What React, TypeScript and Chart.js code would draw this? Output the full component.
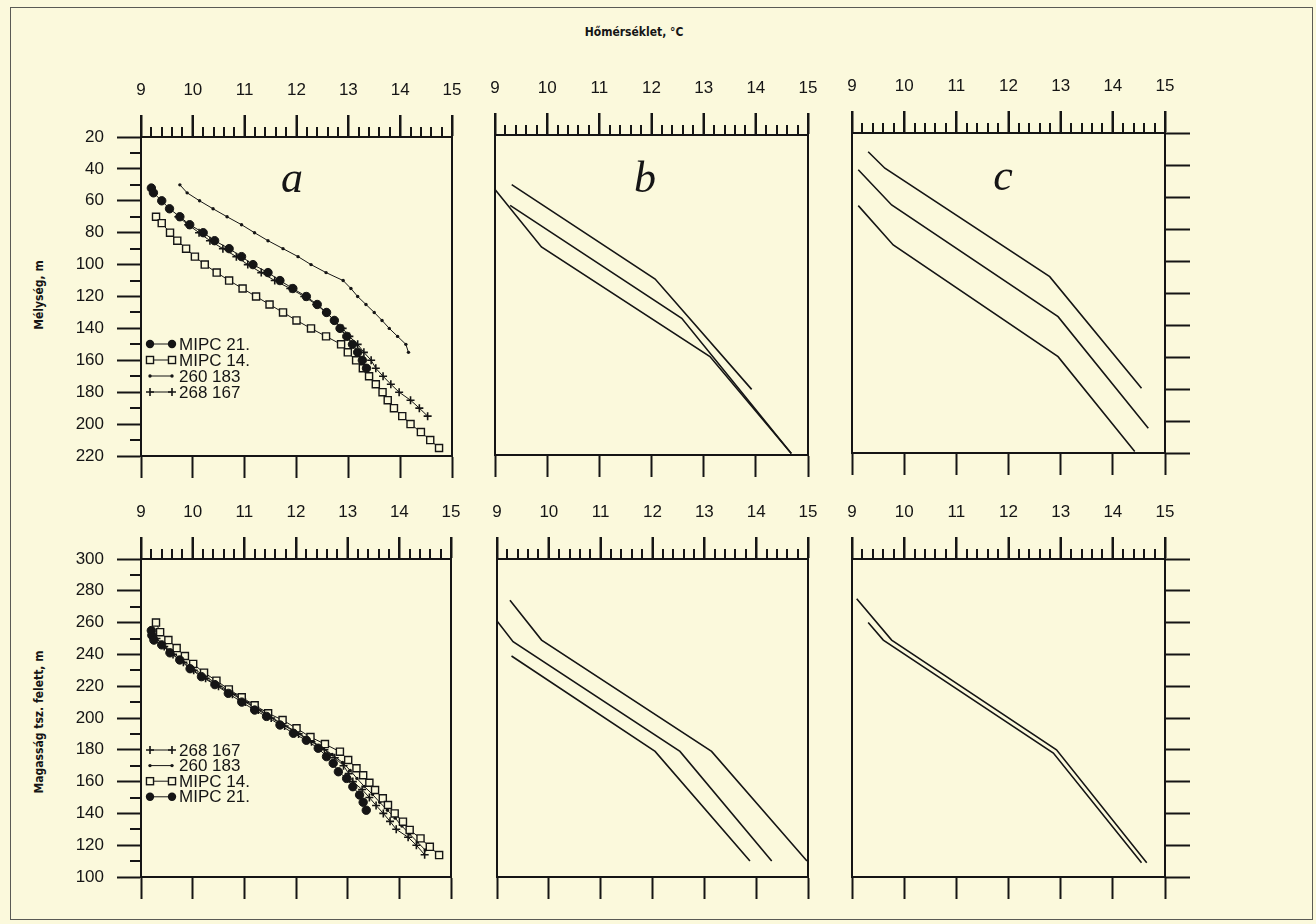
import React, { useEffect, useRef } from 'react';
import { Chart, registerables } from 'chart.js';

Chart.register(...registerables);

const BG = '#FBF9DC';
const INK = '#151515';
const FONT = '"Liberation Sans", Arial, Helvetica, sans-serif';
const LABEL_FONT = '"DejaVu Sans Condensed", "DejaVu Sans", sans-serif';

// ---------- axes ----------
const TEMP_RANGE = [9, 15];
const TEMP_MINOR_STEPS = 30; // 0.2 °C minor ticks, every 5th is major
const DEPTH_RANGE = [20, 220];
const ELEV_RANGE = [100, 300];

// ---------- panel a, depth (m) ----------
const A_TOP_MIPC21_D = [52, 55, 60, 65, 70, 75, 80, 85, 90, 95, 100, 105, 110, 115, 120, 125, 130, 135, 140, 145, 150, 155, 160, 165];
const A_TOP_MIPC21_T = [9.2, 9.24, 9.4, 9.55, 9.75, 9.94, 10.2, 10.42, 10.7, 10.94, 11.16, 11.45, 11.68, 11.93, 12.19, 12.4, 12.58, 12.73, 12.84, 12.97, 13.08, 13.18, 13.27, 13.35];
const A_TOP_MIPC14_D = [70, 74, 80, 85, 90, 95, 100, 105, 110, 115, 120, 125, 130, 135, 140, 145, 150, 155, 160, 165, 170, 175, 180, 185, 190, 195, 200, 205, 210, 215];
const A_TOP_MIPC14_T = [9.29, 9.4, 9.56, 9.7, 9.87, 10.04, 10.23, 10.46, 10.7, 10.96, 11.22, 11.48, 11.74, 12.0, 12.28, 12.57, 12.86, 12.99, 13.15, 13.28, 13.4, 13.53, 13.66, 13.76, 13.88, 14.04, 14.2, 14.4, 14.58, 14.75];
const A_TOP_W260183_D = [50, 55, 60, 65, 70, 75, 80, 85, 90, 95, 100, 105, 110, 115, 120, 125, 130, 135, 140, 145, 150, 155];
const A_TOP_W260183_T = [9.75, 9.89, 10.13, 10.39, 10.66, 10.94, 11.19, 11.45, 11.74, 12.03, 12.28, 12.57, 12.9, 13.05, 13.18, 13.34, 13.5, 13.65, 13.79, 13.95, 14.11, 14.16];
const A_TOP_W268167_D = [70, 75, 80, 85, 90, 95, 100, 105, 110, 115, 120, 125, 130, 135, 140, 145, 150, 155, 160, 165, 170, 175, 180, 185, 190, 195];
const A_TOP_W268167_T = [9.72, 9.91, 10.12, 10.33, 10.58, 10.84, 11.06, 11.32, 11.58, 11.88, 12.15, 12.38, 12.57, 12.73, 12.89, 13.02, 13.18, 13.3, 13.44, 13.53, 13.67, 13.82, 13.98, 14.2, 14.37, 14.53];

// ---------- panel a, elevation (m) ----------
const A_BOT_MIPC21_H = [255, 252, 249, 246, 241, 236.5, 231, 226, 221, 215.5, 210, 205, 201, 195.6, 190.4, 186, 181, 175.7, 171.5, 166.2, 162, 156.8, 151.6, 147, 142];
const A_BOT_MIPC21_T = [9.2, 9.21, 9.25, 9.4, 9.56, 9.75, 9.95, 10.17, 10.43, 10.69, 10.95, 11.2, 11.43, 11.69, 11.95, 12.2, 12.43, 12.59, 12.72, 12.82, 12.98, 13.1, 13.23, 13.3, 13.36];
const A_BOT_MIPC14_H = [260, 254, 249, 244, 239, 234, 228.5, 223.5, 218, 213, 208, 203, 198.7, 193.5, 188, 183.6, 178.8, 173.6, 168.4, 164, 159.3, 154.7, 149.5, 145.3, 140, 134.8, 129.6, 124.3, 119, 113.8];
const A_BOT_MIPC14_T = [9.29, 9.37, 9.53, 9.69, 9.85, 10.01, 10.22, 10.46, 10.7, 10.95, 11.2, 11.46, 11.74, 12.01, 12.28, 12.56, 12.85, 13.01, 13.17, 13.3, 13.42, 13.53, 13.68, 13.78, 13.91, 14.07, 14.2, 14.41, 14.59, 14.77];
const A_BOT_W260183_H = [252, 247, 242, 237, 232, 227, 222, 217, 212, 207, 202, 197, 192, 187, 182, 177, 172, 167, 162, 157, 152, 147, 142, 137, 132, 127, 122, 117];
const A_BOT_W260183_T = [9.25, 9.4, 9.58, 9.78, 9.98, 10.2, 10.45, 10.7, 10.95, 11.2, 11.45, 11.7, 11.97, 12.22, 12.48, 12.7, 12.9, 13.05, 13.18, 13.32, 13.48, 13.62, 13.77, 13.92, 14.05, 14.2, 14.35, 14.5];
const A_BOT_W268167_H = [250, 245, 240, 235, 230, 225, 220, 215, 210, 205, 200, 195, 190, 185, 180, 175, 170, 165, 160, 155, 150, 145, 140, 135, 130, 125, 120, 114];
const A_BOT_W268167_T = [9.3, 9.45, 9.62, 9.82, 10.02, 10.25, 10.5, 10.77, 11.02, 11.27, 11.52, 11.78, 12.05, 12.3, 12.55, 12.75, 12.92, 13.02, 13.1, 13.28, 13.42, 13.55, 13.69, 13.82, 13.94, 14.17, 14.33, 14.49];

// ---------- panel b, depth ----------
const B_TOP_L1_T = [9.32, 12.07, 13.92];
const B_TOP_L1_D = [51, 110, 179];
const B_TOP_L2_T = [9.29, 12.58, 14.68];
const B_TOP_L2_D = [64, 134.6, 219];
const B_TOP_L3_T = [9.0, 9.89, 13.12, 14.68];
const B_TOP_L3_D = [54, 90, 158.5, 219];

// ---------- panel c, depth ----------
const C_TOP_L1_T = [9.31, 9.63, 12.79, 14.55];
const C_TOP_L1_D = [31.7, 42, 109.8, 179.6];
const C_TOP_L2_T = [9.12, 9.76, 12.95, 14.68];
const C_TOP_L2_D = [43, 65, 134.8, 204.6];
const C_TOP_L3_T = [9.12, 9.79, 12.95, 14.42];
const C_TOP_L3_D = [65.4, 90, 159.8, 219];

// ---------- panel b, elevation ----------
const B_BOT_L1_T = [9.25, 9.86, 13.14, 14.98];
const B_BOT_L1_H = [274, 249, 179, 110];
const B_BOT_L2_T = [9.0, 9.31, 12.53, 14.3];
const B_BOT_L2_H = [261, 248, 179, 110];
const B_BOT_L3_T = [9.28, 12.05, 13.88];
const B_BOT_L3_H = [239, 179, 110];

// ---------- panel c, elevation ----------
const C_BOT_L1_T = [9.09, 9.76, 12.92, 14.65];
const C_BOT_L1_H = [275, 249, 180, 109];
const C_BOT_L2_T = [9.31, 9.6, 12.86, 14.55];
const C_BOT_L2_H = [260, 249, 178, 109];

// ---------- styles ----------
type Kind = 'circle' | 'square' | 'dot' | 'plus' | 'line';
const STYLES: Record<Kind, { pointStyle: any; radius: number; fill: string; pbw: number; lw: number }> = {
  circle: { pointStyle: 'circle', radius: 4.2, fill: INK, pbw: 1, lw: 1 },
  square: { pointStyle: 'rect', radius: 5, fill: BG, pbw: 1.4, lw: 1 },
  dot: { pointStyle: 'circle', radius: 1.7, fill: INK, pbw: 0, lw: 1 },
  plus: { pointStyle: 'cross', radius: 4, fill: INK, pbw: 1.6, lw: 1 },
  line: { pointStyle: 'circle', radius: 0, fill: INK, pbw: 0, lw: 1.6 },
};

type Series = { label: string; x: number[]; y: number[]; kind: Kind };
type PanelDef = {
  id: string;
  area: number[]; // left, top, right, bottom (page px of plot area)
  margins: number[]; // left, right, top, bottom
  yRange: number[];
  reverse: boolean;
  leftLabels: boolean;
  rightTicks: boolean;
  series: Series[];
  legend: null | { rows: number[]; y0: number; dy: number };
};

const PANELS: PanelDef[] = [
  {
    id: 'ta', area: [141, 137, 452, 456], margins: [85, 20, 70, 30], yRange: DEPTH_RANGE, reverse: true,
    leftLabels: true, rightTicks: false,
    series: [
      { label: 'MIPC 21.', x: A_TOP_MIPC21_T, y: A_TOP_MIPC21_D, kind: 'circle' },
      { label: 'MIPC 14.', x: A_TOP_MIPC14_T, y: A_TOP_MIPC14_D, kind: 'square' },
      { label: '260 183', x: A_TOP_W260183_T, y: A_TOP_W260183_D, kind: 'dot' },
      { label: '268 167', x: A_TOP_W268167_T, y: A_TOP_W268167_D, kind: 'plus' },
    ],
    legend: { rows: [0, 1, 2, 3], y0: 207, dy: 16 },
  },
  {
    id: 'tb', area: [495, 135, 808, 455], margins: [20, 20, 70, 30], yRange: DEPTH_RANGE, reverse: true,
    leftLabels: false, rightTicks: false,
    series: [
      { label: 'b1', x: B_TOP_L1_T, y: B_TOP_L1_D, kind: 'line' },
      { label: 'b2', x: B_TOP_L2_T, y: B_TOP_L2_D, kind: 'line' },
      { label: 'b3', x: B_TOP_L3_T, y: B_TOP_L3_D, kind: 'line' },
    ],
    legend: null,
  },
  {
    id: 'tc', area: [852, 133, 1165, 453], margins: [20, 40, 70, 30], yRange: DEPTH_RANGE, reverse: true,
    leftLabels: false, rightTicks: true,
    series: [
      { label: 'c1', x: C_TOP_L1_T, y: C_TOP_L1_D, kind: 'line' },
      { label: 'c2', x: C_TOP_L2_T, y: C_TOP_L2_D, kind: 'line' },
      { label: 'c3', x: C_TOP_L3_T, y: C_TOP_L3_D, kind: 'line' },
    ],
    legend: null,
  },
  {
    id: 'ba', area: [141, 559, 451, 877], margins: [85, 20, 70, 30], yRange: ELEV_RANGE, reverse: false,
    leftLabels: true, rightTicks: false,
    series: [
      { label: 'MIPC 21.', x: A_BOT_MIPC21_T, y: A_BOT_MIPC21_H, kind: 'circle' },
      { label: 'MIPC 14.', x: A_BOT_MIPC14_T, y: A_BOT_MIPC14_H, kind: 'square' },
      { label: '260 183', x: A_BOT_W260183_T, y: A_BOT_W260183_H, kind: 'dot' },
      { label: '268 167', x: A_BOT_W268167_T, y: A_BOT_W268167_H, kind: 'plus' },
    ],
    legend: { rows: [3, 2, 1, 0], y0: 191, dy: 15.6 },
  },
  {
    id: 'bb', area: [497, 559, 808, 877], margins: [20, 20, 70, 30], yRange: ELEV_RANGE, reverse: false,
    leftLabels: false, rightTicks: false,
    series: [
      { label: 'b1', x: B_BOT_L1_T, y: B_BOT_L1_H, kind: 'line' },
      { label: 'b2', x: B_BOT_L2_T, y: B_BOT_L2_H, kind: 'line' },
      { label: 'b3', x: B_BOT_L3_T, y: B_BOT_L3_H, kind: 'line' },
    ],
    legend: null,
  },
  {
    id: 'bc', area: [852, 559, 1165, 877], margins: [20, 40, 70, 30], yRange: ELEV_RANGE, reverse: false,
    leftLabels: false, rightTicks: true,
    series: [
      { label: 'c1', x: C_BOT_L1_T, y: C_BOT_L1_H, kind: 'line' },
      { label: 'c2', x: C_BOT_L2_T, y: C_BOT_L2_H, kind: 'line' },
    ],
    legend: null,
  },
];

const isMajorY = (v: number) => Math.abs(v / 20 - Math.round(v / 20)) < 1e-6;

function drawMarker(ctx: CanvasRenderingContext2D, kind: Kind, x: number, y: number) {
  const st = STYLES[kind];
  ctx.save();
  ctx.strokeStyle = INK;
  ctx.fillStyle = st.fill;
  ctx.lineWidth = st.pbw || 1;
  if (kind === 'circle' || kind === 'dot') {
    ctx.beginPath();
    ctx.arc(x, y, st.radius, 0, Math.PI * 2);
    ctx.fill();
  } else if (kind === 'square') {
    const h = st.radius * Math.SQRT1_2;
    ctx.fillRect(x - h, y - h, 2 * h, 2 * h);
    ctx.strokeRect(x - h, y - h, 2 * h, 2 * h);
  } else if (kind === 'plus') {
    ctx.beginPath();
    ctx.moveTo(x - st.radius, y);
    ctx.lineTo(x + st.radius, y);
    ctx.moveTo(x, y - st.radius);
    ctx.lineTo(x, y + st.radius);
    ctx.stroke();
  }
  ctx.restore();
}

function createPanelChart(canvas: HTMLCanvasElement, p: PanelDef): Chart {
  const [ml, mr, mt, mb] = p.margins;
  const zeroPad = (s: any) => {
    s.paddingLeft = 0; s.paddingRight = 0; s.paddingTop = 0; s.paddingBottom = 0;
  };
  const tickFont = { family: FONT, size: 17 };
  const border = { display: true, color: INK, width: 2 };

  const datasets = p.series.map((s) => {
    const st = STYLES[s.kind];
    return {
      label: s.label,
      data: s.x.map((x, i) => ({ x, y: s.y[i] })),
      showLine: true,
      tension: 0,
      borderColor: INK,
      borderWidth: st.lw,
      pointStyle: st.pointStyle,
      pointRadius: st.radius,
      pointBackgroundColor: st.fill,
      pointBorderColor: INK,
      pointBorderWidth: st.pbw,
      xAxisID: 'xt',
      yAxisID: 'yl',
    };
  });

  // tick marks of the top temperature axis (major + minor) and minor ticks of the labelled left axis
  const axisTicks = {
    id: 'axisTicks',
    afterDraw(chart: any) {
      const ctx = chart.ctx as CanvasRenderingContext2D;
      const area = chart.chartArea;
      const xt = chart.scales.xt;
      const yl = chart.scales.yl;
      ctx.save();
      ctx.fillStyle = INK;
      const step = (TEMP_RANGE[1] - TEMP_RANGE[0]) / TEMP_MINOR_STEPS;
      for (let i = 0; i <= TEMP_MINOR_STEPS; i++) {
        const x = Math.round(xt.getPixelForValue(TEMP_RANGE[0] + i * step));
        const len = i % 5 === 0 ? 22 : 10;
        ctx.fillRect(x - 1, area.top - len, 2, len + 1);
      }
      if (p.leftLabels) {
        for (let v = p.yRange[0]; v <= p.yRange[1]; v += 10) {
          if (isMajorY(v)) continue;
          const y = Math.round(yl.getPixelForValue(v));
          ctx.fillRect(area.left - 11, y - 1, 12, 2);
        }
      }
      ctx.restore();
    },
  };

  const wellLegend = {
    id: 'wellLegend',
    afterDatasetsDraw(chart: any) {
      if (!p.legend) return;
      const ctx = chart.ctx as CanvasRenderingContext2D;
      const area = chart.chartArea;
      ctx.save();
      ctx.font = `17px ${FONT}`;
      ctx.textBaseline = 'middle';
      ctx.textAlign = 'left';
      p.legend.rows.forEach((idx, i) => {
        const s = p.series[idx];
        const y = area.top + p.legend!.y0 + i * p.legend!.dy;
        const x1 = area.left + 9;
        const x2 = area.left + 31;
        ctx.strokeStyle = INK;
        ctx.lineWidth = 1;
        ctx.beginPath();
        ctx.moveTo(x1, y);
        ctx.lineTo(x2, y);
        ctx.stroke();
        drawMarker(ctx, s.kind, x1, y);
        drawMarker(ctx, s.kind, x2, y);
        ctx.fillStyle = INK;
        ctx.fillText(s.label, area.left + 38, y + 1);
      });
      ctx.restore();
    },
  };

  const config: any = {
    type: 'scatter',
    data: { datasets },
    options: {
      responsive: false,
      maintainAspectRatio: false,
      animation: false,
      devicePixelRatio: 1,
      events: [],
      layout: { padding: 0 },
      plugins: {
        legend: { display: false },
        tooltip: { enabled: false },
        title: { display: false },
      },
      scales: {
        xt: {
          type: 'linear', position: 'top', min: TEMP_RANGE[0], max: TEMP_RANGE[1],
          ticks: {
            stepSize: 1, autoSkip: false, maxRotation: 0, minRotation: 0, padding: 14,
            color: INK, font: tickFont,
          },
          grid: { display: true, drawOnChartArea: false, drawTicks: true, tickLength: 22, tickWidth: 2, tickColor: INK },
          border,
          afterFit: (s: any) => { s.height = mt; zeroPad(s); },
        },
        xb: {
          type: 'linear', position: 'bottom', min: TEMP_RANGE[0], max: TEMP_RANGE[1],
          ticks: { stepSize: 1, autoSkip: false, maxRotation: 0, padding: 0, font: tickFont, callback: () => '' },
          grid: { display: true, drawOnChartArea: false, drawTicks: true, tickLength: 22, tickWidth: 2, tickColor: INK },
          border,
          afterFit: (s: any) => { s.height = mb; zeroPad(s); },
        },
        yl: {
          type: 'linear', position: 'left', min: p.yRange[0], max: p.yRange[1], reverse: p.reverse,
          ticks: {
            stepSize: 20, autoSkip: false, padding: 13, color: INK, font: tickFont,
            callback: (v: any) => (p.leftLabels ? String(Math.round(+v)) : ''),
          },
          grid: {
            display: true, drawOnChartArea: false, drawTicks: true, tickLength: p.leftLabels ? 24 : 0, tickWidth: 2,
            tickColor: p.leftLabels ? INK : 'rgba(0,0,0,0)',
          },
          border,
          afterFit: (s: any) => { s.width = ml; zeroPad(s); },
        },
        yr: {
          type: 'linear', position: 'right', min: p.yRange[0], max: p.yRange[1], reverse: p.reverse,
          ticks: { stepSize: 20, autoSkip: false, padding: 0, font: tickFont, callback: () => '' },
          grid: {
            display: true, drawOnChartArea: false, drawTicks: true, tickLength: p.rightTicks ? 25 : 0, tickWidth: 2,
            tickColor: p.rightTicks ? INK : 'rgba(0,0,0,0)',
          },
          border,
          afterFit: (s: any) => { s.width = mr; zeroPad(s); },
        },
      },
    },
    plugins: [axisTicks, wellLegend],
  };
  return new Chart(canvas, config);
}

function Panel({ p }: { p: PanelDef }) {
  const ref = useRef<HTMLCanvasElement | null>(null);
  const [L, T, R, B] = p.area;
  const [ml, mr, mt, mb] = p.margins;
  const w = R - L + ml + mr;
  const h = B - T + mt + mb;
  useEffect(() => {
    if (!ref.current) return;
    const chart = createPanelChart(ref.current, p);
    return () => chart.destroy();
  }, [p]);
  return (
    <canvas
      ref={ref}
      width={w}
      height={h}
      style={{ position: 'absolute', left: L - ml, top: T - mt, width: w, height: h }}
    />
  );
}

const LETTERS = [
  { text: 'a', cx: 292, baseline: 193 },
  { text: 'b', cx: 645, baseline: 193 },
  { text: 'c', cx: 1003, baseline: 191 },
];

const axisTitleStyle: React.CSSProperties = {
  position: 'absolute',
  fontFamily: LABEL_FONT,
  fontWeight: 'bold',
  fontSize: 12,
  whiteSpace: 'nowrap',
};

export default function App() {
  return (
    <div
      style={{
        position: 'fixed', left: 0, top: 0, width: 1316, height: 924,
        background: BG, overflow: 'hidden', color: INK,
      }}
    >
      <div
        style={{
          position: 'absolute', left: 10, top: 7, width: 1303, height: 913,
          border: '1.5px solid #5a5a55', boxSizing: 'border-box',
        }}
      />
      <div style={{ ...axisTitleStyle, left: 634, top: 32, transform: 'translate(-50%, -50%)' }}>
        Hőmérséklet, °C
      </div>
      <div style={{ ...axisTitleStyle, left: 39, top: 295, transform: 'translate(-50%, -50%) rotate(-90deg)' }}>
        Mélység, m
      </div>
      <div style={{ ...axisTitleStyle, left: 39, top: 722, transform: 'translate(-50%, -50%) rotate(-90deg)' }}>
        Magasság tsz. felett, m
      </div>
      {PANELS.map((p) => (
        <Panel key={p.id} p={p} />
      ))}
      {LETTERS.map((l) => (
        <div
          key={l.text}
          style={{
            position: 'absolute', left: l.cx - 30, width: 60, top: l.baseline - 37, textAlign: 'center',
            fontFamily: '"Liberation Serif", "Times New Roman", serif', fontStyle: 'italic',
            fontSize: 44, lineHeight: '44px',
          }}
        >
          {l.text}
        </div>
      ))}
    </div>
  );
}
